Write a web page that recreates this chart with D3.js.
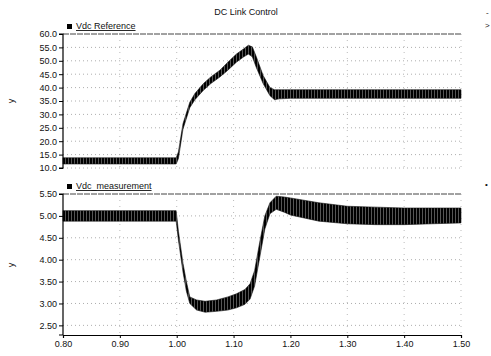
<!DOCTYPE html>
<html><head><meta charset="utf-8">
<script src="https://cdn.jsdelivr.net/npm/d3@7/dist/d3.min.js"></script>
<style>body{margin:0;background:#fff}svg{display:block}text{font-family:"Liberation Sans",Arial,sans-serif;fill:#111}</style>
</head><body>
<script>
// ---- data ----
const title = "DC Link Control";
const xTicks = [0.80,0.90,1.00,1.10,1.20,1.30,1.40,1.50];
const refTicks = [10,15,20,25,30,35,40,45,50,55,60];
const measTicks = [2.5,3.0,3.5,4.0,4.5,5.0,5.5];

const tRef   = [0.80,0.85,0.90,0.95,0.999,1.003,1.011,1.023,1.032,1.047,1.060,1.076,1.090,1.105,1.118,1.126,1.133,1.140,1.152,1.164,1.172,1.180,1.20,1.25,1.30,1.35,1.40,1.45,1.50];
const refLow = [11.5,11.5,11.5,11.5,11.5,13.5,24.5,32.5,35.5,39.0,41.5,44.0,46.5,49.5,51.5,52.5,51.5,47.5,41.5,37.0,35.5,35.8,36.0,36.0,36.0,36.0,36.0,36.0,36.0];
const refHigh= [13.8,13.8,13.8,13.8,13.8,16.0,26.5,34.5,37.8,41.5,44.0,46.5,49.5,52.5,54.5,55.8,55.2,51.5,44.5,40.0,39.2,39.2,39.2,39.2,39.2,39.2,39.2,39.2,39.2];

const tMeas   = [0.80,0.85,0.90,0.95,0.999,1.003,1.011,1.017,1.023,1.035,1.050,1.070,1.090,1.105,1.120,1.129,1.137,1.146,1.155,1.164,1.175,1.19,1.20,1.25,1.30,1.35,1.40,1.45,1.50];
const measLow = [4.88,4.88,4.88,4.88,4.88,4.45,3.72,3.28,3.00,2.85,2.80,2.82,2.85,2.90,2.98,3.10,3.40,4.05,4.70,5.05,5.15,5.08,5.02,4.88,4.82,4.80,4.80,4.82,4.84];
const measHigh= [5.12,5.12,5.12,5.12,5.12,4.65,3.92,3.50,3.15,3.08,3.05,3.08,3.15,3.22,3.32,3.45,3.75,4.40,5.00,5.30,5.45,5.43,5.41,5.30,5.22,5.20,5.18,5.18,5.18];

// ---- chart ----
const W=491,H=356;
const svg=d3.select("body").append("svg").attr("width",W).attr("height",H);
const defs=svg.append("defs");
const pat=defs.append("pattern").attr("id","osc").attr("patternUnits","userSpaceOnUse").attr("width",3).attr("height",4);
pat.append("rect").attr("width",3).attr("height",4).attr("fill","#555");
pat.append("rect").attr("width",2).attr("height",4).attr("fill","#000");

const x=d3.scaleLinear().domain([0.8,1.5]).range([63,461]);

svg.append("text").attr("x",246).attr("y",15).attr("text-anchor","middle").attr("font-size",9).text(title);

function panel(cfg){
  const y=d3.scaleLinear().domain(cfg.domain).range(cfg.range);
  const g=svg.append("g");
  g.selectAll("line.hg").data(cfg.ticks).join("line")
    .attr("x1",x(0.8)).attr("x2",x(1.5)).attr("y1",d=>y(d)).attr("y2",d=>y(d))
    .attr("stroke",(d,i)=>i===cfg.ticks.length-1?"#444":"#999")
    .attr("stroke-width",(d,i)=>i===cfg.ticks.length-1?1:0.8)
    .attr("stroke-dasharray",(d,i)=>i===cfg.ticks.length-1?"6,1":"1,3");
  g.selectAll("line.vg").data(xTicks.slice(1)).join("line")
    .attr("x1",d=>x(d)).attr("x2",d=>x(d)).attr("y1",cfg.range[1]).attr("y2",cfg.range[0])
    .attr("stroke","#aaa").attr("stroke-width",0.8).attr("stroke-dasharray","1,5");
  const area=d3.area().x((d,i)=>x(cfg.t[i])).y0((d,i)=>y(cfg.lo[i])).y1((d,i)=>y(cfg.hi[i]));
  g.append("path").datum(cfg.t).attr("d",area).attr("fill","url(#osc)").attr("stroke","#111").attr("stroke-width",0.6);
  const ax=d3.axisLeft(y).tickValues(cfg.ticks).tickFormat(d3.format(cfg.fmt)).tickSize(4).tickPadding(2);
  const a=g.append("g").attr("transform","translate(63,0)").call(ax);
  a.select(".domain").attr("stroke","#000").attr("stroke-width",1.2).attr("d",`M-4,${cfg.range[1]}H0V${cfg.range[0]}H-4`);
  a.selectAll("text").attr("font-size",9).attr("font-family","Liberation Sans, Arial, sans-serif").attr("fill","#111");
  svg.append("text").attr("transform",`translate(14,${cfg.ylab}) rotate(-90)`).attr("text-anchor","middle").attr("font-size",9).text("y");
  svg.append("rect").attr("x",67).attr("y",cfg.legY-5).attr("width",5).attr("height",5).attr("fill","#000");
  svg.append("text").attr("x",76).attr("y",cfg.legY).attr("font-size",9).attr("text-decoration","underline").text(cfg.name);
  return y;
}

panel({domain:[10,60],range:[168,34],ticks:refTicks,fmt:".1f",t:tRef,lo:refLow,hi:refHigh,name:"Vdc Reference",legY:29,ylab:101});
panel({domain:[2.28,5.5],range:[335,194],ticks:measTicks,fmt:".2f",t:tMeas,lo:measLow,hi:measHigh,name:"Vdc_measurement",legY:189,ylab:265});

const xa=svg.append("g").attr("transform","translate(0,335)").call(d3.axisBottom(x).tickValues(xTicks).tickFormat(d3.format(".2f")).tickSize(3).tickPadding(3));
xa.select(".domain").attr("stroke","#000").attr("stroke-width",1.2);
xa.selectAll("text").attr("font-size",9).attr("font-family","Liberation Sans, Arial, sans-serif").attr("fill","#111");

svg.append("text").attr("x",486).attr("y",15).attr("font-size",8).text("-");
svg.append("text").attr("x",485).attr("y",28).attr("font-size",8).text(">");
svg.append("text").attr("x",485).attr("y",187).attr("font-size",8).text("•");
</script>
</body></html>
